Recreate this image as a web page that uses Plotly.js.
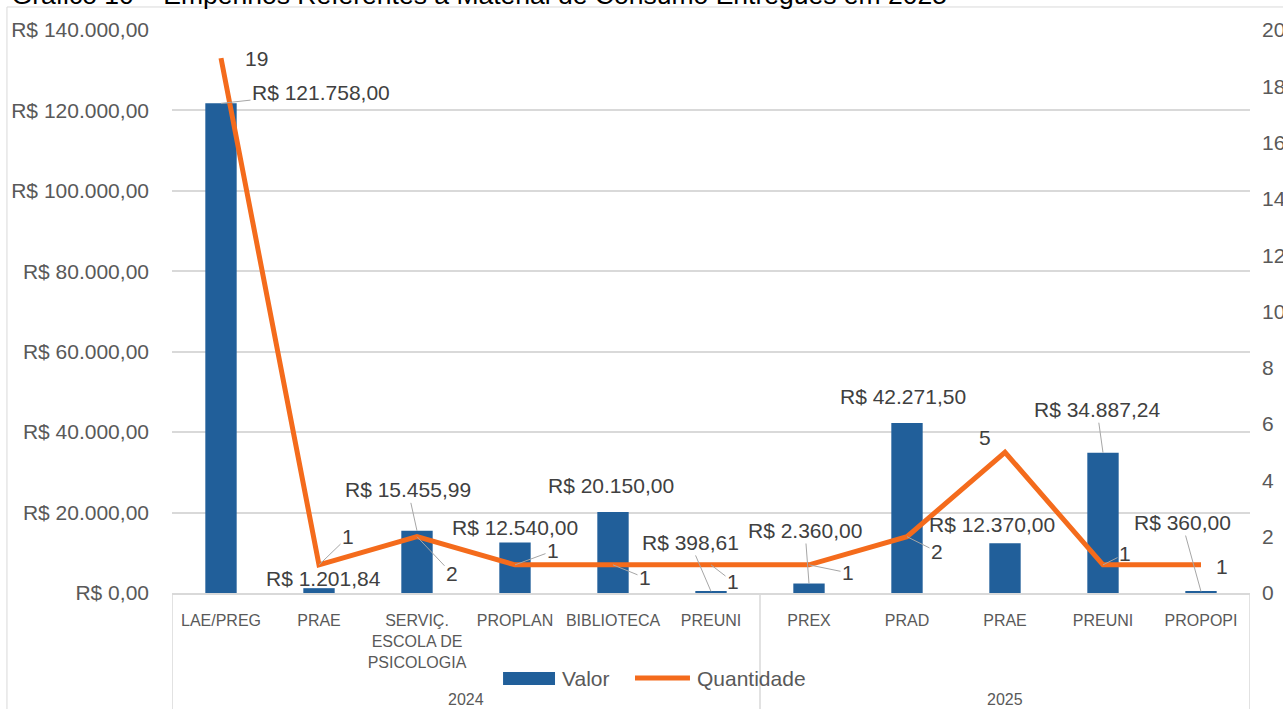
<!DOCTYPE html>
<html>
<head>
<meta charset="utf-8">
<script src="https://cdn.plot.ly/plotly-3.0.1.min.js"></script>
<style>
  html, body { margin: 0; padding: 0; background: #ffffff; }
  #chart { width: 1283px; height: 709px; }
</style>
</head>
<body>
<div id="chart"></div>
<script>
// ---- Data ----
const years = ["2024", "2024", "2024", "2024", "2024", "2024", "2025", "2025", "2025", "2025", "2025"];
const units = ["LAE/PREG", "PRAE", "SERVIÇ.<br>ESCOLA DE<br>PSICOLOGIA", "PROPLAN", "BIBLIOTECA", "PREUNI",
               "PREX", "PRAD", "PRAE", "PREUNI", "PROPOPI"];
const valor = [121758.00, 1201.84, 15455.99, 12540.00, 20150.00, 398.61, 2360.00, 42271.50, 12370.00, 34887.24, 360.00];
const quantidade = [19, 1, 2, 1, 1, 1, 1, 2, 5, 1, 1];
const seriesNames = ["Valor", "Quantidade"];

// ---- Label placement (pixel offsets from the point, leader line on/off) ----
const valorLabelDx = [100, 4, -9, 0, -2, -21, -4, -4, -13, -6, -19];
const valorLabelDy = [-11, -10, -41, -15, -26, -49, -53, -27, -19, -43, -69];
const valorLeader  = [1, 0, 1, 0, 0, 1, 1, 0, 0, 1, 1];
const qtdLabelDx = [35, 29, 35, 38, 32, 22, 39, 30, -20, 22, 21];
const qtdLabelDy = [0, -28, 37, -14, 13, 17, 8, 15, -15, -11, 2];
const qtdLeader  = [0, 1, 1, 1, 1, 1, 1, 1, 0, 1, 0];

const FONT = "Liberation Sans, Arial, sans-serif";
const BLUE = "#215f9a";
const ORANGE = "#f46b1c";
const GRID = "#d9d9d9";
const TXT = "#595959";
const LBL = "#404040";

function brl(v) {
  const s = v.toFixed(2);
  const parts = s.split(".");
  return "R$ " + parts[0].replace(/\B(?=(\d{3})+(?!\d))/g, ".") + "," + parts[1];
}

// category positions on the axis (one slot per category)
const pos = units.map(function (_, i) { return i; });

const traces = [
  {
    type: "bar",
    name: seriesNames[0],
    x: pos,
    y: valor,
    yaxis: "y",
    width: 0.32,
    marker: { color: BLUE },
    hovertext: units,
    hoverinfo: "y+text",
    showlegend: false
  },
  {
    type: "scatter",
    mode: "lines",
    name: seriesNames[1],
    x: pos,
    y: quantidade,
    yaxis: "y2",
    line: { color: ORANGE, width: 5 },
    hovertext: units,
    hoverinfo: "y+text",
    showlegend: false
  }
];

const annotations = [];
valor.forEach(function (v, i) {
  annotations.push({
    xref: "x", yref: "y", x: pos[i], y: v,
    text: brl(v),
    showarrow: true, arrowhead: 0, arrowwidth: 1,
    arrowcolor: valorLeader[i] ? "#a6a6a6" : "rgba(0,0,0,0)",
    ax: valorLabelDx[i], ay: valorLabelDy[i], standoff: 0,
    font: { family: FONT, size: 21, color: LBL }
  });
});
quantidade.forEach(function (q, i) {
  annotations.push({
    xref: "x", yref: "y2", x: pos[i], y: q,
    text: String(q),
    showarrow: true, arrowhead: 0, arrowwidth: 1,
    arrowcolor: qtdLeader[i] ? "#a6a6a6" : "rgba(0,0,0,0)",
    ax: qtdLabelDx[i], ay: qtdLabelDy[i], standoff: 0,
    font: { family: FONT, size: 21, color: LBL }
  });
});

// year group labels and dividers
const shapes = [];
const groups = [];
years.forEach(function (y, i) {
  if (!groups.length || groups[groups.length - 1].name !== y) groups.push({ name: y, first: i, last: i });
  else groups[groups.length - 1].last = i;
});
groups.forEach(function (g, gi) {
  annotations.push({
    xref: "x", yref: "paper", x: (g.first + g.last) / 2, y: -0.190,
    text: g.name, showarrow: false, yanchor: "middle",
    font: { family: FONT, size: 16, color: TXT }
  });
  if (gi === 0) {
    shapes.push({ type: "line", xref: "x", yref: "paper", x0: g.first - 0.5, x1: g.first - 0.5, y0: 0, y1: -0.25,
                  line: { color: GRID, width: 1.5 } });
  }
  shapes.push({ type: "line", xref: "x", yref: "paper", x0: g.last + 0.5, x1: g.last + 0.5, y0: 0, y1: -0.25,
                line: { color: GRID, width: 1.5 } });
});

// legend (drawn to match the wide swatches of the original)
shapes.push({ type: "rect", xref: "paper", yref: "paper", x0: 0.3071, x1: 0.3553, y0: -0.1634, y1: -0.1403,
              line: { width: 0 }, fillcolor: BLUE });
shapes.push({ type: "line", xref: "paper", yref: "paper", x0: 0.4295, x1: 0.4805, y0: -0.1510, y1: -0.1510,
              line: { color: ORANGE, width: 5 } });
annotations.push({ xref: "paper", yref: "paper", x: 0.3599, y: -0.1510, xanchor: "left", yanchor: "middle",
                   text: seriesNames[0], showarrow: false, font: { family: FONT, size: 21, color: TXT } });
annotations.push({ xref: "paper", yref: "paper", x: 0.4852, y: -0.1510, xanchor: "left", yanchor: "middle",
                   text: seriesNames[1], showarrow: false, font: { family: FONT, size: 21, color: TXT } });

// outer chart frame
shapes.push({
  type: "rect", xref: "paper", yref: "paper",
  x0: -0.1531, x1: 1.2, y0: -0.4, y1: 1.0409,
  line: { color: GRID, width: 1 },
  fillcolor: "rgba(0,0,0,0)",
  layer: "below"
});

const layout = {
  width: 1283,
  height: 709,
  paper_bgcolor: "#ffffff",
  plot_bgcolor: "#ffffff",
  separators: ",.",
  font: { family: FONT, color: TXT },
  margin: { l: 172, r: 33, t: 30, b: 116, pad: 0 },
  title: {
    text: "Gráfico 10 – Empenhos Referentes a Material de Consumo Entregues em 2025",
    font: { family: FONT, size: 26.5, color: "#000000" },
    x: 0.009, xanchor: "left", xref: "container",
    y: 0.994, yanchor: "bottom", yref: "container"
  },
  showlegend: false,
  xaxis: {
    type: "linear",
    range: [-0.5, units.length - 0.5],
    tickmode: "array",
    tickvals: pos,
    ticktext: units,
    tickangle: 0,
    showline: true,
    linecolor: GRID,
    linewidth: 1.5,
    ticks: "",
    showgrid: false,
    zeroline: false,
    ticklabelstandoff: 12,
    tickfont: { family: FONT, size: 16, color: TXT },
    fixedrange: true
  },
  yaxis: {
    range: [0, 140000],
    dtick: 20000,
    tick0: 0,
    tickprefix: "R$ ",
    tickformat: ",.2f",
    showgrid: true,
    gridcolor: GRID,
    gridwidth: 1.5,
    zeroline: false,
    showline: false,
    ticks: "",
    ticklabelstandoff: 22,
    tickfont: { family: FONT, size: 21, color: TXT },
    fixedrange: true
  },
  yaxis2: {
    overlaying: "y",
    side: "right",
    range: [0, 20],
    dtick: 2,
    tick0: 0,
    showgrid: false,
    zeroline: false,
    showline: false,
    ticks: "",
    ticklabelstandoff: 11,
    tickfont: { family: FONT, size: 21, color: TXT },
    fixedrange: true
  },
  annotations: annotations,
  shapes: shapes
};

Plotly.newPlot("chart", traces, layout, { displayModeBar: false, responsive: false });
</script>
</body>
</html>
